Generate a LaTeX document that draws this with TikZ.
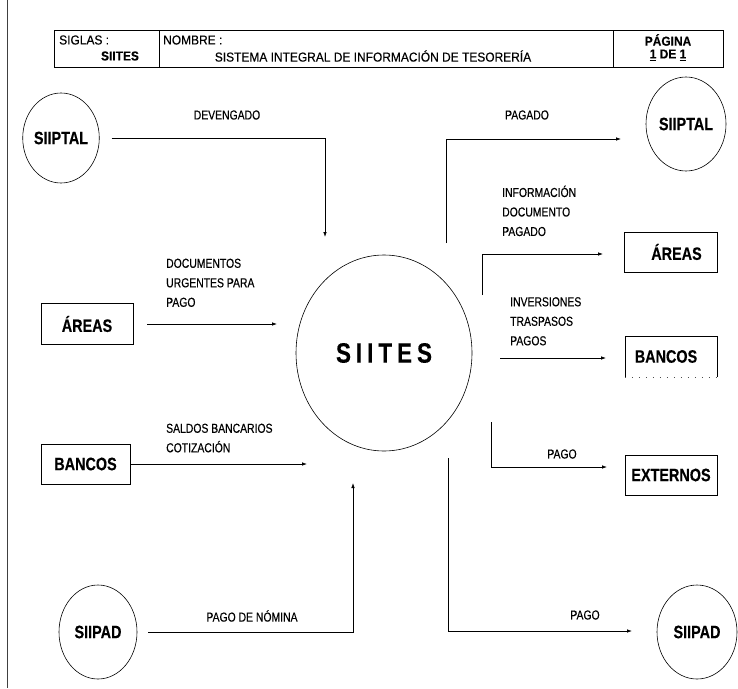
\documentclass[tikz,border=0pt]{standalone}
\usepackage{fontspec}
\setmainfont{Liberation Sans}[FakeStretch=0.8,FakeBold=0.3]
\newfontfamily\headfont{Liberation Sans}[FakeStretch=0.92,FakeBold=0.3]
\usetikzlibrary{shapes.geometric,arrows.meta}

\tikzset{
  flow/.style={line width=0.8pt,-{Latex[length=5pt,width=3.6pt]}},
  entity/.style={ellipse,draw,line width=0.6pt,inner sep=0pt,
    font=\bfseries\fontsize{18}{18}\selectfont},
  extbox/.style={rectangle,draw,line width=0.6pt,inner sep=0pt,
    font=\bfseries\fontsize{18}{18}\selectfont},
  flowtext/.style={inner sep=0pt,font=\fontsize{13}{19.5}\selectfont,align=left},
  headtext/.style={inner sep=0pt,font=\headfont\fontsize{13}{13}\selectfont},
  headbold/.style={inner sep=0pt,font=\headfont\bfseries\fontsize{13}{13}\selectfont},
}

\begin{document}
\begin{tikzpicture}[x=1pt,y=-1pt]
\useasboundingbox (0,0) rectangle (738,688);
\fill[white] (0,0) rectangle (738,688);

% left margin rule of the sheet
\draw[line width=0.5pt,black!75] (7,0) -- (7,688);

% title block
\draw[line width=0.9pt] (54,30) rectangle (723,67);
\draw[line width=0.9pt] (159,30) -- (159,67) (613,30) -- (613,67);
\node[headtext,anchor=west] (siglas) at (59,40) {SIGLAS :};
\node[headbold] (siglasv) at (120,56) {SIITES};
\node[headtext,anchor=west] (nombre) at (163,40) {NOMBRE :};
\node[headtext] (nombrev) at (373,56) {SISTEMA INTEGRAL DE INFORMACIÓN DE TESORERÍA};
\node[headbold] (pagina) at (668,40) {PÁGINA};
\node[headbold] (paginav) at (668,55) {\underline{1} DE \underline{1}};

% central process
\node[entity,minimum width=176pt,minimum height=196pt,
  font=\bfseries\fontsize{28}{28}\selectfont] (siites) at (384,353)
  {S\kern5pt I\kern5pt I\kern5pt T\kern5pt E\kern5pt S};

% external entities, left
\node[entity,minimum width=76pt,minimum height=90pt] (siiptalL) at (61,138) {SIIPTAL};
\node[extbox,minimum width=92pt,minimum height=41pt] (areasL) at (87,324) {ÁREAS};
\node[extbox,minimum width=89pt,minimum height=40pt] (bancosL) at (85.5,464) {BANCOS};
\node[entity,minimum width=78pt,minimum height=94pt] (siipadL) at (98,632) {SIIPAD};

% external entities, right
\node[entity,minimum width=80pt,minimum height=94pt] (siiptalR) at (686,124) {SIIPTAL};
\node[extbox,minimum width=93pt,minimum height=40pt] (areasR) at (670.5,252) {\hspace*{12pt}ÁREAS};
\node[minimum width=92pt,minimum height=41pt,inner sep=0pt,
  font=\bfseries\fontsize{18}{18}\selectfont] (bancosR) at (671,356.5) {BANCOS\hspace*{10pt}};
\draw[line width=0.6pt] (bancosR.south west) -- (bancosR.north west)
  -- (bancosR.north east) -- (bancosR.south east);
\draw[line width=0.6pt,black!70,dash pattern=on 1pt off 6pt] (bancosR.south west) -- (bancosR.south east);
\node[extbox,minimum width=92pt,minimum height=40pt] (externos) at (671,475) {EXTERNOS};
\node[entity,minimum width=80pt,minimum height=94pt] (siipadR) at (697,632) {SIIPAD};

% loose ends of the flows next to SIITES
\coordinate (toDev) at (325,237);
\coordinate (toAreas) at (277,324);
\coordinate (toBancos) at (307,464);
\coordinate (toNomina) at (353,483);
\coordinate (fromPagado) at (446,243);
\coordinate (endPagado) at (621,139);
\coordinate (fromInfo) at (482,295);
\coordinate (endInfo) at (603,254);
\coordinate (fromInv) at (500,358);
\coordinate (endInv) at (606,358);
\coordinate (fromPagoExt) at (491,422);
\coordinate (endPagoExt) at (607,467);
\coordinate (fromPagoPad) at (448,458);
\coordinate (endPagoPad) at (632,631);

% incoming flows
\draw[flow] ([xshift=12pt]siiptalL.east) -| (toDev);
\draw[flow] ([xshift=14pt]areasL.east) -- (toAreas);
\draw[flow] (bancosL.east) -- (toBancos);
\draw[flow] ([xshift=11pt]siipadL.east) -| (toNomina);

% outgoing flows
\draw[flow] (fromPagado) |- (endPagado);
\draw[flow] (fromInfo) |- (endInfo);
\draw[flow] (fromInv) -- (endInv);
\draw[flow] (fromPagoExt) |- (endPagoExt);
\draw[flow] (fromPagoPad) |- (endPagoPad);

% flow labels
\node[flowtext] (lDev) at (227,115) {DEVENGADO};
\node[flowtext,anchor=north west] (lDoc) at (166,258.5) {DOCUMENTOS\\URGENTES PARA\\PAGO};
\node[flowtext,anchor=north west] (lSal) at (166,423.5) {SALDOS BANCARIOS\\COTIZACIÓN};
\node[flowtext] (lNom) at (252,616) {PAGO DE NÓMINA};
\node[flowtext] (lPagado) at (527,115) {PAGADO};
\node[flowtext,anchor=north west] (lInfo) at (502,185.5) {INFORMACIÓN\\DOCUMENTO\\PAGADO};
\node[flowtext,anchor=north west] (lInv) at (510,297) {INVERSIONES\\TRASPASOS\\PAGOS};
\node[flowtext] (lPagoExt) at (562,454) {PAGO};
\node[flowtext] (lPagoPad) at (585,615) {PAGO};
\end{tikzpicture}
\end{document}
